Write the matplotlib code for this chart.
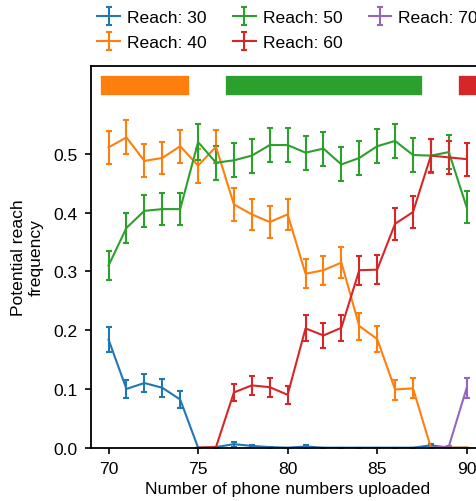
import numpy as np
import matplotlib
matplotlib.use("Agg")
import matplotlib.pyplot as plt

plt.rcParams['font.family'] = ['Liberation Sans', 'DejaVu Sans']
plt.rcParams['font.size'] = 12.6

# uploaded phone numbers
x_all = list(range(70, 91))

reach30 = [0.184, 0.100, 0.110, 0.102, 0.082, 0.0, 0.001, 0.006, 0.003, 0.001, 0.0,
           0.002, 0.0, 0.0, 0.0, 0.0, 0.0, 0.0, 0.004, 0.0, 0.0]
reach30_err = [0.022, 0.015, 0.016, 0.015, 0.014, 0.0, 0.001, 0.004, 0.002, 0.001, 0.0,
               0.002, 0.0, 0.0, 0.0, 0.0, 0.0, 0.0, 0.003, 0.0, 0.0]

reach40 = [0.511, 0.528, 0.488, 0.493, 0.513, 0.480, 0.512, 0.414, 0.397, 0.384, 0.397,
           0.296, 0.302, 0.315, 0.207, 0.185, 0.099, 0.101, 0.0, 0.0, 0.0]
reach40_err = [0.028, 0.029, 0.028, 0.028, 0.028, 0.029, 0.028, 0.028, 0.027, 0.027, 0.027,
               0.025, 0.025, 0.026, 0.023, 0.022, 0.017, 0.017, 0.0, 0.0, 0.0]

reach50 = [0.310, 0.374, 0.403, 0.406, 0.406, 0.520, 0.485, 0.489, 0.497, 0.515, 0.515,
           0.502, 0.509, 0.482, 0.493, 0.513, 0.522, 0.498, 0.497, 0.503, 0.409]
reach50_err = [0.025, 0.026, 0.027, 0.027, 0.027, 0.030, 0.029, 0.029, 0.029, 0.029, 0.029,
               0.029, 0.029, 0.029, 0.029, 0.029, 0.029, 0.029, 0.029, 0.029, 0.027]

x_reach60 = list(range(75, 91))
reach60 = [0.0, 0.001, 0.094, 0.106, 0.103, 0.090, 0.203, 0.191, 0.204, 0.302, 0.303,
           0.381, 0.401, 0.497, 0.494, 0.491]
reach60_err = [0.0, 0.001, 0.015, 0.016, 0.016, 0.015, 0.022, 0.021, 0.022, 0.025, 0.025,
               0.027, 0.027, 0.028, 0.028, 0.028]

x_reach70 = [88, 89, 90]
reach70 = [0.0, 0.002, 0.102]
reach70_err = [0.0, 0.001, 0.017]

# ranges where one reach dominates (first, last uploaded count, colour index)
dominant_ranges = [(70, 74, 1), (77, 87, 2), (90, 90, 3)]

colors = plt.rcParams['axes.prop_cycle'].by_key()['color']

fig = plt.figure(figsize=(4.77, 5.02), dpi=100)
ax = fig.add_axes([0.190, 0.1062, 0.826, 0.7609])

series = [
    (x_all, reach30, reach30_err, "Reach: 30"),
    (x_all, reach40, reach40_err, "Reach: 40"),
    (x_all, reach50, reach50_err, "Reach: 50"),
    (x_reach60, reach60, reach60_err, "Reach: 60"),
    (x_reach70, reach70, reach70_err, "Reach: 70"),
]
for i, (xs, ys, es, label) in enumerate(series):
    ax.errorbar(xs, ys, yerr=es, color=colors[i], lw=1.5, capsize=2,
                capthick=1.5, elinewidth=1.5, label=label)

for start, end, ci in dominant_ranges:
    ax.fill_between([start - 0.5, end + 0.5], 0.600, 0.635, color=colors[ci],
                    edgecolor='white', lw=0.5)

ax.set_xlim(69, 91)
ax.set_ylim(0, 0.65)
ax.set_xticks([70, 75, 80, 85, 90])
ax.set_yticks([0.0, 0.1, 0.2, 0.3, 0.4, 0.5])
ax.set_yticklabels(["0.0", "0.1", "0.2", "0.3", "0.4", "0.5"])
ax.tick_params(direction='out', length=4.5, width=1.2, pad=5)
for s in ax.spines.values():
    s.set_linewidth(1.3)
ax.set_xlabel("Number of phone numbers uploaded", labelpad=4)
ax.set_ylabel("Potential reach\nfrequency", labelpad=7)

ax.legend(loc='lower center', bbox_to_anchor=(0.5, 1.022), ncol=3, frameon=False,
          handlelength=1.3, handletextpad=0.4, columnspacing=1.5,
          labelspacing=0.58, borderaxespad=0.0)

fig.savefig("out.png", dpi=100)
